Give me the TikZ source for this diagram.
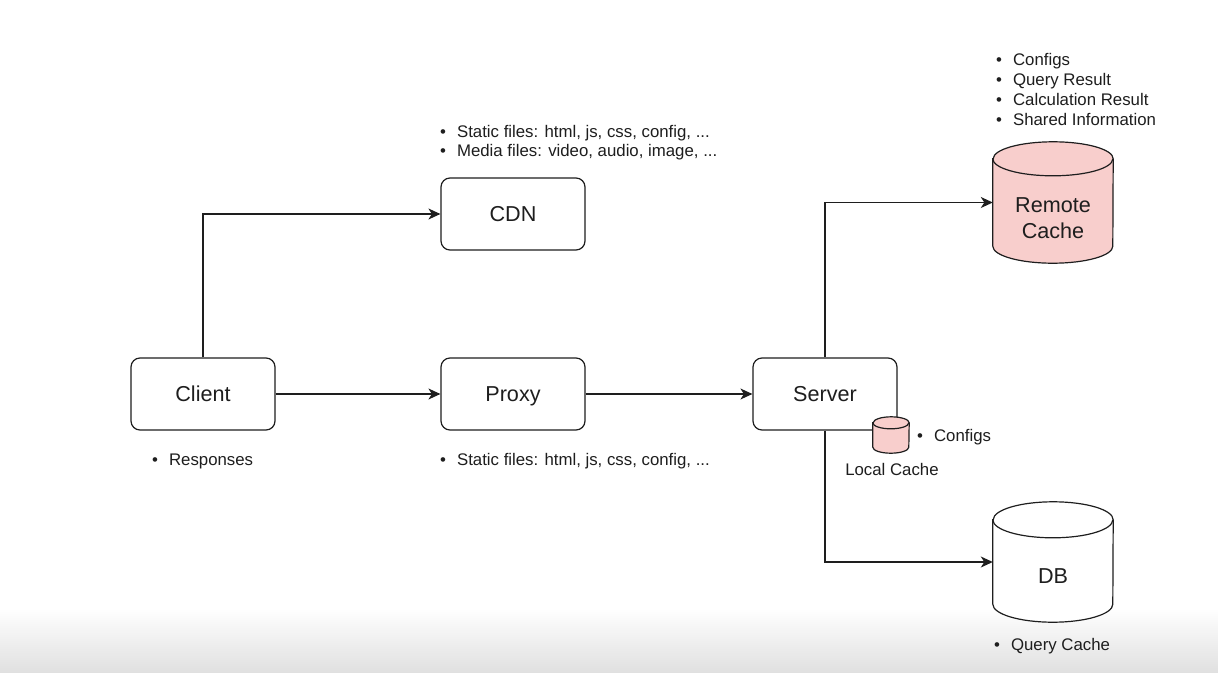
\documentclass[tikz,border=0pt]{standalone}
\usepackage{fontspec}
\setmainfont{Liberation Sans}
\usetikzlibrary{arrows.meta,calc}
\definecolor{ink}{HTML}{1E1E1E}
\definecolor{cachefill}{HTML}{F8CECC}
\begin{document}
\begin{tikzpicture}[x=1pt,y=1pt,
  box/.style={draw=ink,line width=1.2pt,rounded corners=9pt,minimum width=144pt,minimum height=72pt,inner sep=0pt,text height=15.5pt,text depth=0pt,font=\fontsize{21.6}{26}\selectfont,text=ink},
  conn/.style={draw=ink,line width=1.3pt,-{Stealth[length=12pt,width=11pt,inset=3.5pt]}},
  cylbody/.style={draw=ink,line width=1.2pt},
  holder/.style={draw=none,inner sep=0pt},
  lbl/.style={inner sep=0pt,font=\fontsize{21.6}{26}\selectfont,text=ink,align=center},
  blist/.style={inner sep=0pt,anchor=west,align=left,text=ink,font=\fontsize{16.8}{20}\selectfont},
  small/.style={inner sep=0pt,text=ink,font=\fontsize{16.8}{20}\selectfont}
]
\useasboundingbox (0,0) rectangle (1218,-672);
\fill[white] (0,0) rectangle (1218,-672);
\shade[top color=white,bottom color=black!12] (0,-608) rectangle (1218,-672);

\newcommand{\bl}{\textbullet\hspace{11pt}}

% boxes
\node[box] (client) at (203,-394) {Client};
\node[box] (cdn) at (513,-214) {CDN};
\node[box] (proxy) at (513,-394) {Proxy};
\node[box] (server) at (825,-394) {Server};

% cylinder holders
\node[holder,minimum width=120pt,minimum height=121pt] (rc) at (1053,-202.5) {};
\node[holder,minimum width=120pt,minimum height=120pt] (db) at (1053,-562) {};
\node[holder,minimum width=36pt,minimum height=36pt] (lc) at (891,-435) {};

% remote cache cylinder
\path[cylbody,fill=cachefill] ([yshift=-17pt]rc.north west) -- ([yshift=17pt]rc.south west)
  arc[start angle=180,end angle=360,x radius=60pt,y radius=17pt]
  -- ([yshift=-17pt]rc.north east)
  arc[start angle=0,end angle=180,x radius=60pt,y radius=17pt] -- cycle;
\draw[cylbody] ([yshift=-17pt]rc.north west) arc[start angle=180,end angle=360,x radius=60pt,y radius=17pt];
\node[lbl] (rctext) at (1053,-218) {Remote\\Cache};

% DB cylinder
\path[cylbody,fill=white] ([yshift=-18pt]db.north west) -- ([yshift=18pt]db.south west)
  arc[start angle=180,end angle=360,x radius=60pt,y radius=18pt]
  -- ([yshift=-18pt]db.north east)
  arc[start angle=0,end angle=180,x radius=60pt,y radius=18pt] -- cycle;
\draw[cylbody] ([yshift=-18pt]db.north west) arc[start angle=180,end angle=360,x radius=60pt,y radius=18pt];
\node[lbl,text height=15.5pt,text depth=0pt] (dbtext) at (1053,-576) {DB};

% local cache cylinder
\path[cylbody,fill=cachefill] ([yshift=-6pt]lc.north west) -- ([yshift=6pt]lc.south west)
  arc[start angle=180,end angle=360,x radius=18pt,y radius=6pt]
  -- ([yshift=-6pt]lc.north east)
  arc[start angle=0,end angle=180,x radius=18pt,y radius=6pt] -- cycle;
\draw[cylbody] ([yshift=-6pt]lc.north west) arc[start angle=180,end angle=360,x radius=18pt,y radius=6pt];
\node[small] (lctext) at (892,-469) {Local Cache};

% connectors
\draw[conn] (client.north) |- (cdn.west);
\draw[conn] (client.east) -- (proxy.west);
\draw[conn] (proxy.east) -- (server.west);
\draw[conn] (server.north) |- (rc.west);
\draw[conn] (server.south) |- (db.west);

% bullet lists
\node[blist,font=\fontsize{16.8}{19}\selectfont] (cdnlist) at (440,-143) {\bl Static files: html, js, css, config, ...\\\bl Media files: video, audio, image, ...};
\node[blist] (rclist) at (996,-89) {\bl Configs\\\bl Query Result\\\bl Calculation Result\\\bl Shared Information};
\node[blist] (resp) at (152,-461) {\bl Responses};
\node[blist] (proxylist) at (440,-461) {\bl Static files: html, js, css, config, ...};
\node[blist] (lclist) at (917,-437) {\bl Configs};
\node[blist] (dblist) at (994,-646) {\bl Query Cache};
\end{tikzpicture}
\end{document}
